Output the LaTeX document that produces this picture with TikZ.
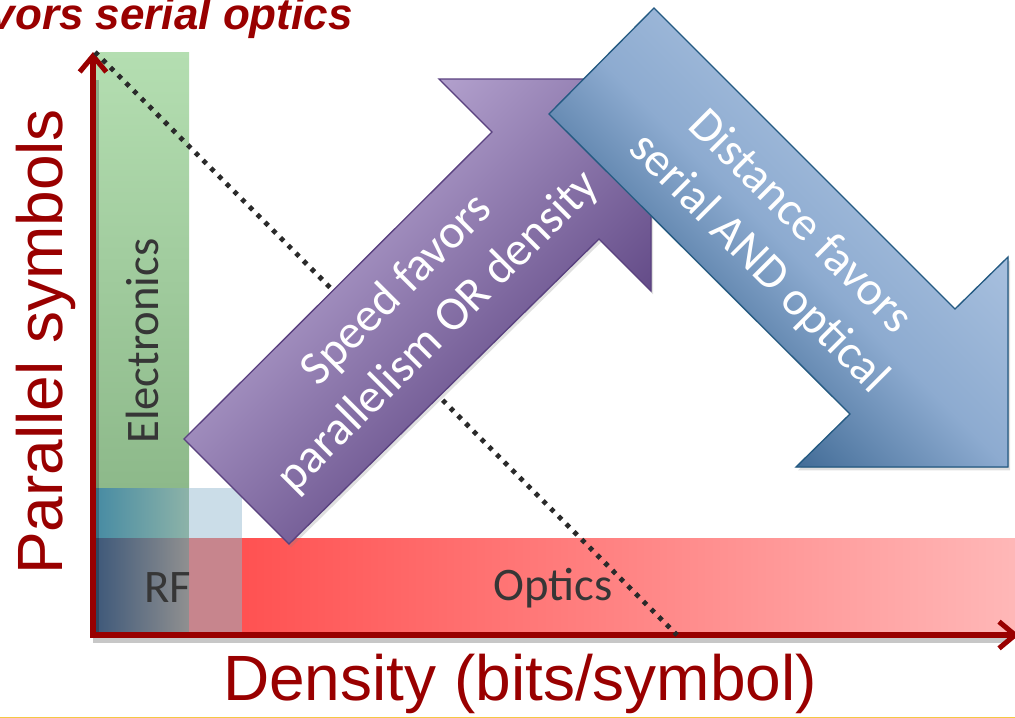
\documentclass[tikz,border=0pt]{standalone}
\usepackage{fontspec}
\setmainfont{Carlito}
\newfontfamily\arialfont{Liberation Sans}
\usetikzlibrary{arrows.meta,shadows}

\definecolor{axisred}{HTML}{990000}
\definecolor{labelgray}{HTML}{363636}
\definecolor{purpleedge}{HTML}{5A4180}
\definecolor{purplelight}{HTML}{C8B8E0}
\definecolor{purpledark}{HTML}{4E3475}
\definecolor{blueedge}{HTML}{245A82}
\definecolor{bluelight}{HTML}{B6CBE6}
\definecolor{bluemid}{HTML}{8DABD0}
\definecolor{bluedark}{HTML}{1A4A78}
\definecolor{greentop}{HTML}{B4DEB1}
\definecolor{greenbot}{HTML}{8DB98A}
\definecolor{redleft}{HTML}{FF3E3E}
\definecolor{redright}{HTML}{FFB8B8}
\definecolor{tealleft}{HTML}{458AA3}
\definecolor{tealright}{HTML}{8DB3A8}
\definecolor{rfleft}{HTML}{3C5779}
\definecolor{rfright}{HTML}{909090}
\definecolor{paleblue}{HTML}{CBDDE8}
\definecolor{dustypink}{HTML}{C7858D}
\definecolor{dotgray}{HTML}{2A2A2A}
\definecolor{footline}{HTML}{F5C842}

\tikzset{
  axisline/.style={draw=axisred, line width=3.8pt, line join=miter,
    {Straight Barb[length=12pt,width=20pt]}-{Straight Barb[length=12pt,width=20pt]}},
  axisshade/.style={draw=black, opacity=0.22, line width=5pt, line join=miter},
  diagline/.style={draw=dotgray, line width=3.6pt, dash pattern=on 3.4pt off 4.8pt},
  bigarrow/.style={line width=1pt, line join=miter,
    drop shadow={opacity=0.25, shadow xshift=1.5pt, shadow yshift=-2.5pt}},
  arrowtext/.style={text=white, align=center, font=\fontsize{36}{44}\selectfont},
  bandtext/.style={text=labelgray, font=\fontsize{35}{42}\selectfont},
  axislabel/.style={text=axisred, font=\arialfont\fontsize{48}{56}\selectfont},
}

\begin{document}
\begin{tikzpicture}[x=0.75pt, y=-0.75pt]
\useasboundingbox (0,0) rectangle (1015,718);

% coloured technology bands
\path[left color=redleft, right color=redright] (93,538) rectangle (1020,635);
\path[top color=greentop, bottom color=greenbot] (95,52) rectangle (189,488);
\path[left color=tealleft, right color=tealright] (93,488) rectangle (189,538);
\path[fill=paleblue] (189,488) rectangle (242,538);
\path[left color=rfleft, right color=rfright] (93,538) rectangle (189,635);
\path[fill=dustypink] (189,538) rectangle (242,635);

\node[bandtext, rotate=90] (elec) at (142,341) {Electronics};
\node[bandtext] (rf) at (168,588) {RF};
\node[bandtext] (optics) at (553,588) {Optics};

% axes
\coordinate (ytop) at (93,52);
\coordinate (origin) at (93,635);
\coordinate (xend) at (1019,635);
\draw[axisshade] (96,80) -- (96,640) -- (1010,640);
\path[axisline] (ytop) -- (origin) -- (xend);

% trade-off line
\coordinate (dtop) at (95,52);
\coordinate (dbot) at (677,635);
\draw[diagline] (dtop) -- (dbot);

% speed arrow
\filldraw[bigarrow, draw=purpleedge, top color=purplelight, bottom color=purpledark, shading angle=45]
  (184,439) -- (492,132) -- (439,79) -- (651,79) -- (651,291) -- (599,239) -- (289,544) -- cycle;
\node[arrowtext, rotate=45] (speed) at (418,311) {Speed favors\\parallelism OR density};

% distance arrow
\filldraw[bigarrow, draw=blueedge, top color=bluelight, bottom color=bluedark, middle color=bluemid, shading angle=-45]
  (549,114) -- (654,8) -- (955,309) -- (1008,257) -- (1008,467) -- (796,467) -- (850,414) -- cycle;
\node[arrowtext, rotate=-45] (dist) at (779,243) {Distance favors\\serial AND optical};

% axis labels and heading
\node[axislabel, rotate=90] (ylab) at (46,342) {Parallel symbols};
\node[axislabel] (xlab) at (520,684) {Density (bits/symbol)};
\node[text=axisred, font=\arialfont\bfseries\itshape\fontsize{33}{38}\selectfont,
  anchor=base east, inner sep=0pt] (title) at (353,29) {favors serial optics};

% footer rule
\fill[footline] (0,716.5) rectangle (1015,718);
\end{tikzpicture}
\end{document}
